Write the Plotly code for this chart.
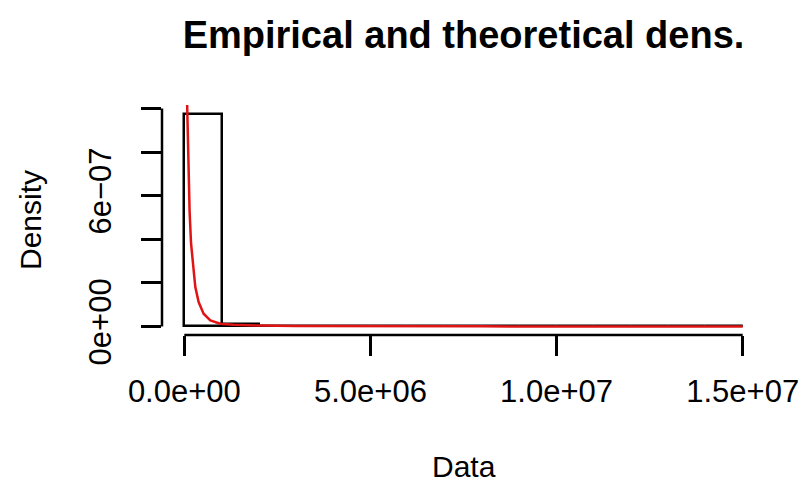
import plotly.graph_objects as go

# Histogram (density per bin, bin width 1e6)
bin_left = [0, 1e6, 2e6, 3e6, 4e6, 5e6, 6e6, 7e6, 8e6, 9e6, 10e6, 11e6, 12e6, 13e6, 14e6]
bin_density = [9.77e-7, 1.2e-8, 4e-9, 2e-9, 1e-9, 1e-9, 5e-10, 5e-10, 0, 0, 0, 0, 0, 0, 3e-10]
bin_width = 1e6

# Theoretical density curve
curve_x = [62e3, 72.4e3, 94e3, 121e3, 142e3, 180e3, 233e3, 295e3, 384e3, 518e3, 698e3,
           966e3, 1.315e6, 2e6, 3e6, 5e6, 8e6, 1.2e7, 1.5e7]
curve_y = [1.12e-6, 1.018e-6, 8.1e-7, 6.27e-7, 5.25e-7, 3.82e-7, 2.73e-7, 1.81e-7, 1.12e-7,
           5.85e-8, 2.76e-8, 1.24e-8, 7.8e-9, 4e-9, 2.2e-9, 1e-9, 5e-10, 3e-10, 2e-10]

x_ticks = [0, 5e6, 1e7, 1.5e7]
x_ticktext = ["0.0e+00", "5.0e+06", "1.0e+07", "1.5e+07"]
y_ticks = [0, 2e-7, 4e-7, 6e-7, 8e-7, 1e-6]
y_ticktext = ["0e+00", "", "", "6e\u221207", "", ""]

FONT = "Liberation Sans, Arial, Helvetica, sans-serif"

fig = go.Figure()
fig.add_trace(go.Bar(
    x=[b + bin_width / 2 for b in bin_left], y=bin_density, width=bin_width,
    marker=dict(color="white", line=dict(color="black", width=2.5)),
    showlegend=False, hoverinfo="skip"))
fig.add_trace(go.Scatter(
    x=curve_x, y=curve_y, mode="lines", line=dict(color="#e01414", width=2.5),
    showlegend=False))

ymax = max(bin_density)
xmin, xmax = 0, 1.5e7
fig.update_xaxes(range=[xmin - 0.04 * (xmax - xmin), xmax + 0.04 * (xmax - xmin)],
                 tickvals=x_ticks, ticktext=x_ticktext, ticks="outside", ticklen=20,
                 tickwidth=2.5, tickcolor="black", showline=False, showgrid=False,
                 zeroline=False, tickfont=dict(size=31, color="black"),
                 ticklabelstandoff=9, automargin=False)
fig.update_yaxes(range=[-0.04 * ymax, 1.04 * ymax],
                 tickvals=y_ticks, ticktext=y_ticktext, ticks="outside", ticklen=20,
                 tickwidth=2.5, tickcolor="black", showline=False, showgrid=False,
                 zeroline=False, tickangle=-90, tickfont=dict(size=31, color="black"),
                 ticklabelstandoff=18, automargin=False)

# R-style axis lines spanning first to last tick
fig.add_shape(type="line", xref="x", yref="y domain", x0=x_ticks[0], x1=x_ticks[-1],
              y0=0, y1=0, line=dict(color="black", width=2.5))
fig.add_shape(type="line", xref="x domain", yref="y", x0=0, x1=0,
              y0=y_ticks[0], y1=y_ticks[-1], line=dict(color="black", width=2.5))

fig.add_annotation(text="Data", xref="paper", yref="paper", x=0.5, y=0,
                   yanchor="middle", yshift=-131, showarrow=False,
                   font=dict(size=30, color="black"))
fig.add_annotation(text="Density", xref="paper", yref="paper", x=0, y=0.5,
                   xanchor="center", xshift=-132, textangle=-90, showarrow=False,
                   font=dict(size=30, color="black"))

fig.update_layout(
    width=807, height=485,
    margin=dict(l=162, r=42, t=105, b=150),
    paper_bgcolor="white", plot_bgcolor="white",
    font=dict(family=FONT, color="black"),
    bargap=0,
    title=dict(text="<b>Empirical and theoretical dens.</b>", x=0.5, xref="paper",
               y=1 - 35 / 485, yref="container", yanchor="middle",
               font=dict(size=38, color="black")),
)

fig.write_html("out.html")
